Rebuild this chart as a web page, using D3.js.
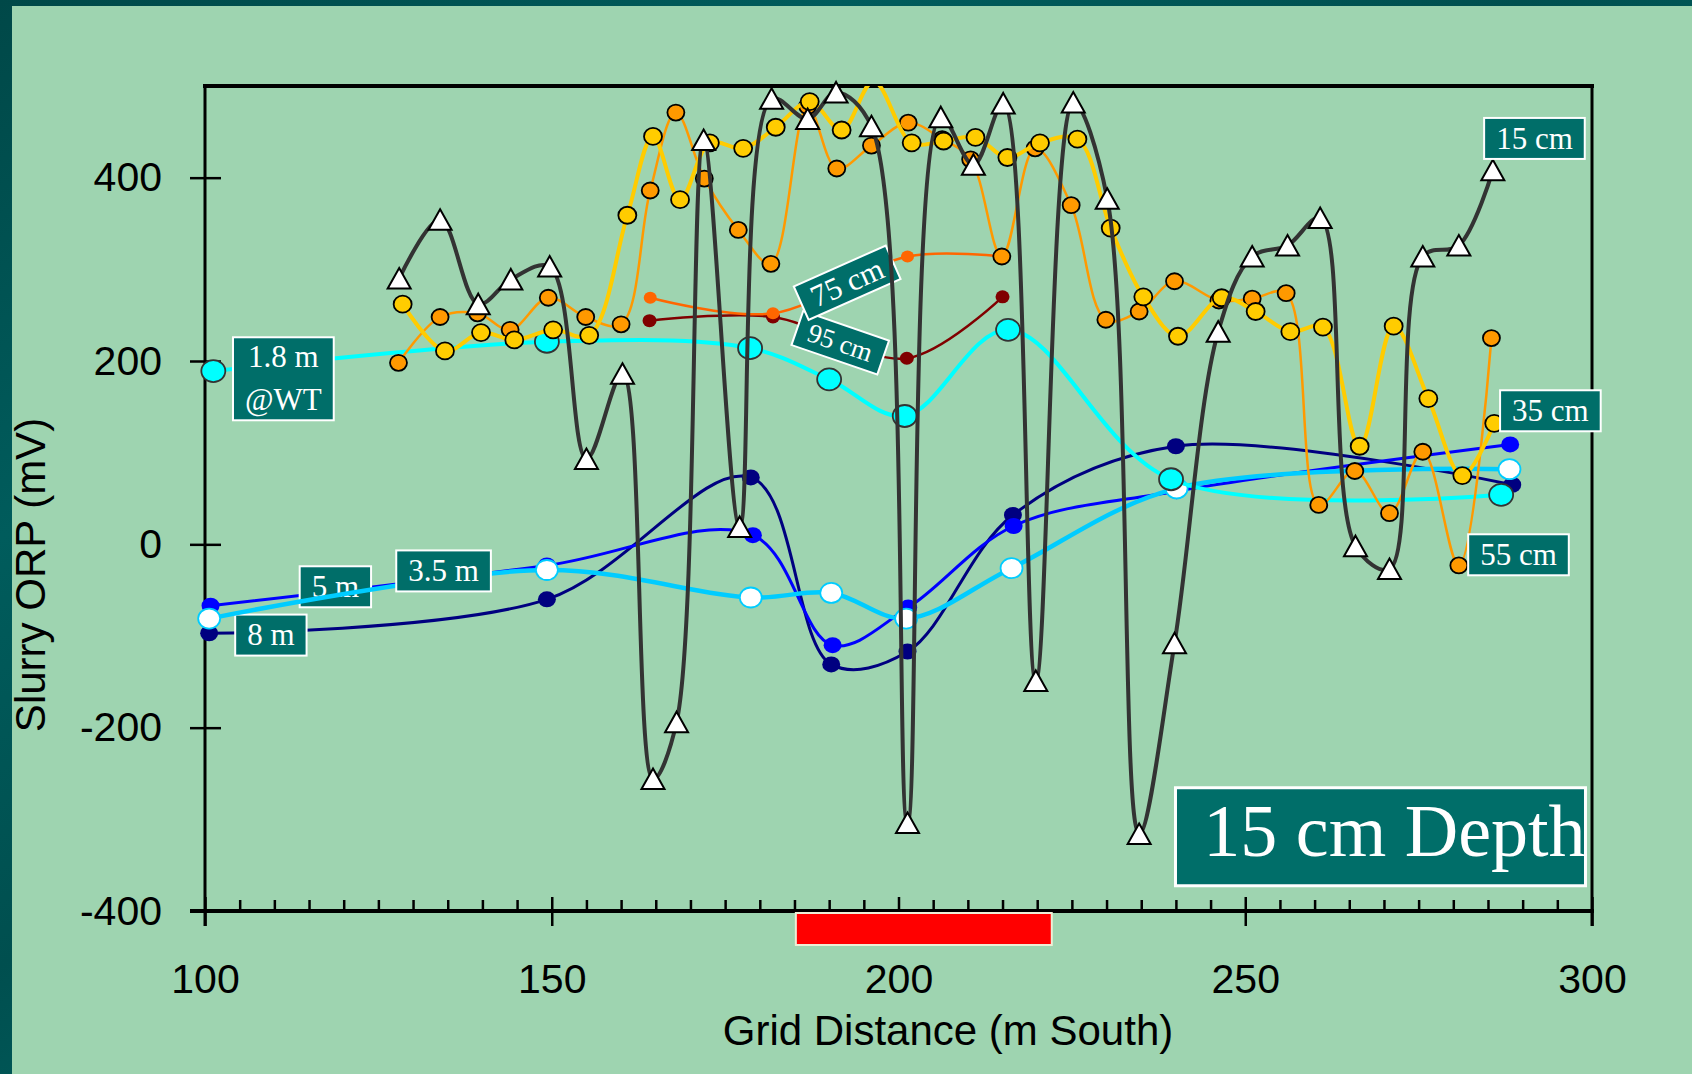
<!DOCTYPE html>
<html>
<head>
<meta charset="utf-8">
<script src="https://cdn.jsdelivr.net/npm/d3@7"></script>
<style>
  html, body { margin: 0; padding: 0; background: #9ED4B0; }
  svg { display: block; }
</style>
</head>
<body>
<script>
// axis ticks
const xTicks = [100, 150, 200, 250, 300];
const xMinorTicks = d3.range(105, 300, 5).filter(v => v % 50 !== 0);
const yTicks = [-400, -200, 0, 200, 400];

// grid distance (m South) and slurry ORP (mV), one pair per depth
const cm15Dist = [128.0, 133.9, 139.4, 144.1, 149.7, 155.0, 160.2, 164.6, 168.0, 171.9, 177.1, 181.7, 186.9, 191.0, 196.1, 201.3, 206.1, 210.8, 215.1, 219.8, 225.2, 230.1, 234.7, 239.8, 246.1, 251.0, 256.1, 260.8, 265.9, 270.8, 275.6, 280.8, 285.7];
const cm15Orp = [290, 354, 262, 289, 303, 93, 186, -256, -194, 441, 19, 486, 464, 493, 456, -304, 466, 414, 481, -149, 482, 377, -316, -108, 232, 314, 326, 356, -2, -27, 314, 326, 408];

const cm35Dist = [128.5, 134.6, 139.8, 144.6, 150.2, 155.4, 160.9, 164.6, 168.5, 172.8, 177.6, 182.3, 187.2, 191.8, 196.4, 201.9, 206.5, 211.1, 215.7, 220.4, 225.8, 230.6, 235.3, 240.3, 246.6, 251.5, 256.5, 261.2, 266.5, 271.4, 276.4, 281.3, 285.9];
const cm35Orp = [262, 211, 231, 223, 234, 228, 359, 445, 376, 438, 432, 455, 483, 452, 505, 438, 440, 444, 422, 438, 442, 345, 270, 227, 269, 254, 232, 237, 107, 238, 159, 75, 132];

const cm55Dist = [127.9, 133.9, 139.3, 144.0, 149.5, 154.9, 160.0, 164.2, 167.9, 172.0, 176.9, 181.6, 186.9, 191.1, 196.1, 201.4, 206.3, 210.4, 214.9, 219.7, 224.9, 229.9, 234.7, 239.8, 246.2, 251.0, 255.9, 260.6, 265.8, 270.8, 275.6, 280.8, 285.5];
const cm55Orp = [198, 248, 252, 234, 269, 248, 240, 386, 471, 399, 343, 306, 478, 410, 435, 460, 442, 420, 314, 432, 370, 245, 254, 287, 266, 268, 274, 43, 80, 34, 101, -23, 225];

const cm75Dist = [164.2, 181.9, 201.3, 215.0];
const cm75Orp = [269, 252, 314, 314];

const cm95Dist = [164.1, 181.9, 201.2, 215.0];
const cm95Orp = [244, 248, 203, 270];

const m1p8Dist = [101.2, 149.3, 178.6, 190.0, 200.9, 215.8, 239.3, 286.9];
const m1p8Orp = [189, 221, 214, 180, 140, 234, 71, 54];

const m3p5Dist = [100.6, 149.3, 178.7, 190.3, 201.1, 216.3, 240.1, 288.1];
const m3p5Orp = [-81, -28, -58, -53, -81, -26, 61, 82];

const m5Dist = [100.8, 149.3, 179.0, 190.5, 201.4, 216.6, 240.1, 288.2];
const m5Orp = [-67, -23, 10, -110, -69, 20, 58, 109];

const m8Dist = [100.6, 149.3, 178.7, 190.3, 201.3, 216.5, 240.0, 288.5];
const m8Orp = [-97, -60, 73, -131, -117, 32, 107, 65];

// red band under the axis (grid distance range)
const redZone = [185.2, 222.1];

const W = 1692, H = 1074;
const plot = { left: 205, right: 1592, top: 86, bottom: 911 };

const x = d3.scaleLinear().domain([100, 300]).range([plot.left, plot.right]);
const y = d3.scaleLinear().domain([-400, 500]).range([plot.bottom, plot.top]);

const svg = d3.select("body").append("svg")
    .attr("width", W)
    .attr("height", H);

const defs = svg.append("defs");
const grad = defs.append("linearGradient").attr("id", "frame")
    .attr("x1", "0").attr("y1", "0").attr("x2", "1").attr("y2", "1");
[["0%", "#004848"], ["25%", "#005C5C"], ["45%", "#004F4F"], ["65%", "#006565"], ["100%", "#007070"]]
    .forEach(s => grad.append("stop").attr("offset", s[0]).attr("stop-color", s[1]));

defs.append("clipPath").attr("id", "plotClip")
    .append("rect")
    .attr("x", plot.left).attr("y", plot.top)
    .attr("width", plot.right - plot.left)
    .attr("height", plot.bottom - plot.top);

// slide background
svg.append("rect").attr("width", W).attr("height", H).attr("fill", "url(#frame)");
svg.append("rect").attr("x", 12).attr("y", 6).attr("width", W - 12).attr("height", H - 6)
    .attr("fill", "#9ED4B0");

// axes
const tickFont = "'Liberation Sans', Arial, sans-serif";
const plain = d => String(d);

const xAxis = svg.append("g")
    .attr("transform", `translate(0,${plot.bottom})`)
    .call(d3.axisBottom(x).tickValues(xTicks).tickSize(15).tickFormat(plain));
xAxis.selectAll("text")
    .attr("y", 82).attr("dy", 0)
    .style("font", `41px ${tickFont}`).attr("fill", "#000");

svg.append("g")
    .attr("transform", `translate(0,${plot.bottom})`)
    .call(d3.axisTop(x).tickValues(xTicks).tickSize(14).tickFormat(""));
svg.append("g")
    .attr("transform", `translate(0,${plot.bottom})`)
    .call(d3.axisTop(x).tickValues(xMinorTicks).tickSize(11).tickFormat(""));

const yAxis = svg.append("g")
    .attr("transform", `translate(${plot.left},0)`)
    .call(d3.axisLeft(y).tickValues(yTicks).tickSize(15).tickFormat(plain));
yAxis.selectAll("text")
    .attr("x", -43)
    .style("font", `41px ${tickFont}`).attr("fill", "#000");
svg.append("g")
    .attr("transform", `translate(${plot.left},0)`)
    .call(d3.axisRight(y).tickValues(yTicks).tickSize(16).tickFormat(""));

svg.selectAll(".domain").remove();
svg.selectAll(".tick line").attr("stroke", "#000").attr("stroke-width", 2.5);

// plot frame
svg.append("line").attr("x1", plot.left - 2).attr("x2", plot.right + 2)
    .attr("y1", plot.top).attr("y2", plot.top).attr("stroke", "#000").attr("stroke-width", 4);
svg.append("line").attr("x1", plot.left - 15).attr("x2", plot.right + 2)
    .attr("y1", plot.bottom).attr("y2", plot.bottom).attr("stroke", "#000").attr("stroke-width", 4);
svg.append("line").attr("x1", plot.left).attr("x2", plot.left)
    .attr("y1", plot.top).attr("y2", plot.bottom + 15).attr("stroke", "#000").attr("stroke-width", 3);
svg.append("line").attr("x1", plot.right).attr("x2", plot.right)
    .attr("y1", plot.top).attr("y2", plot.bottom + 15).attr("stroke", "#000").attr("stroke-width", 3);

// red band
svg.append("rect")
    .attr("x", x(redZone[0])).attr("y", plot.bottom + 2)
    .attr("width", x(redZone[1]) - x(redZone[0])).attr("height", 32)
    .attr("fill", "#FF0000").attr("stroke", "#EDEED6").attr("stroke-width", 2);

// axis titles
svg.append("text")
    .attr("x", 948).attr("y", 1045)
    .attr("text-anchor", "middle")
    .style("font", `42px ${tickFont}`)
    .text("Grid Distance (m South)");
svg.append("text")
    .attr("transform", "translate(45,575) rotate(-90)")
    .attr("text-anchor", "middle")
    .style("font", `42px ${tickFont}`)
    .text("Slurry ORP (mV)");

// series
const line = d3.line()
    .x(d => x(d[0]))
    .y(d => y(d[1]))
    .curve(d3.curveCatmullRom.alpha(0.5));

const series = [
    { key: "m8", dist: m8Dist, orp: m8Orp, color: "#000080", width: 3, shape: "dot", rx: 9, ry: 8, fill: "#000080", edge: "none" },
    { key: "m5", dist: m5Dist, orp: m5Orp, color: "#0000FF", width: 3, shape: "dot", rx: 9, ry: 8, fill: "#0000FF", edge: "none" },
    { key: "m3p5", dist: m3p5Dist, orp: m3p5Orp, color: "#00CCFF", width: 4.5, shape: "dot", rx: 11, ry: 10, fill: "#FFFFFF", edge: "#00CCFF" },
    { key: "m1p8", dist: m1p8Dist, orp: m1p8Orp, color: "#00FFFF", width: 4, shape: "dot", rx: 12, ry: 11, fill: "#00FFFF", edge: "#333333" },
    { key: "cm95", dist: cm95Dist, orp: cm95Orp, color: "#800000", width: 2.5, shape: "dot", rx: 7, ry: 6.5, fill: "#800000", edge: "none" },
    { key: "cm75", dist: cm75Dist, orp: cm75Orp, color: "#FF6600", width: 2.5, shape: "dot", rx: 6.5, ry: 6, fill: "#FF6600", edge: "none" },
    { key: "cm55", dist: cm55Dist, orp: cm55Orp, color: "#FF9900", width: 2.5, shape: "dot", rx: 8.5, ry: 8, fill: "#FF9900", edge: "#000" },
    { key: "cm35", dist: cm35Dist, orp: cm35Orp, color: "#FFCC00", width: 4, shape: "dot", rx: 9, ry: 8.5, fill: "#FFCC00", edge: "#000" },
    { key: "cm15", dist: cm15Dist, orp: cm15Orp, color: "#333333", width: 4, shape: "tri", fill: "#FFFFFF", edge: "#000" }
];

// text boxes, centred at data coordinates
const labels = {
    m8: [{ lines: ["8 m"], at: [109.5, -99] }],
    m5: [{ lines: ["5 m"], at: [118.8, -46.3] }],
    m3p5: [{ lines: ["3.5 m"], at: [134.4, -29] }],
    m1p8: [{ lines: ["1.8 m", "@WT"], at: [111.3, 180.6], h: 83 }],
    cm95: [{ lines: ["95 cm"], at: [191.6, 219.9], h: 36, angle: 19, size: 27 }],
    cm75: [{ lines: ["75 cm"], at: [192.6, 285.4], h: 36.5, angle: -24 }],
    cm55: [{ lines: ["55 cm"], at: [289.4, -11.4] }],
    cm35: [{ lines: ["35 cm"], at: [294.0, 145.7] }],
    cm15: [{ lines: ["15 cm"], at: [291.7, 442.8] },
           { lines: ["15 cm Depth"], at: [269.5, -319], w: 410, h: 98, size: 74, dx: 14, dy: 19, border: 3 }]
};

const serif = "'Liberation Serif', 'Times New Roman', serif";

function drawLabel(lab) {
    const size = lab.size || 31;
    const h = lab.h || 41;
    const g = svg.append("g")
        .attr("transform", `translate(${x(lab.at[0])},${y(lab.at[1])}) rotate(${lab.angle || 0})`);
    const rect = g.append("rect")
        .attr("fill", "#006E69")
        .attr("stroke", "#FFFFFF")
        .attr("stroke-width", lab.border || 2);
    const t = g.append("text")
        .attr("text-anchor", "middle")
        .attr("fill", "#FFFFFF")
        .style("font", `${size}px ${serif}`);
    const n = lab.lines.length;
    lab.lines.forEach((s, i) => {
        t.append("tspan")
            .attr("x", lab.dx || 0)
            .attr("y", n === 1 ? (lab.dy !== undefined ? lab.dy : size * 0.33) : (i === 0 ? -11.7 : 30.9))
            .text(s);
    });
    let w = lab.w;
    if (!w) {
        w = d3.max(t.selectAll("tspan").nodes(), nd => nd.getComputedTextLength()) + 24;
    }
    rect.attr("x", -w / 2).attr("y", -h / 2).attr("width", w).attr("height", h);
}

function triPath(cx, cy) {
    return `M${cx},${cy - 10.5}L${cx + 11.5},${cy + 10}L${cx - 11.5},${cy + 10}Z`;
}

series.forEach(s => {
    const pts = s.dist.map((d, i) => [d, s.orp[i]]);
    svg.append("path")
        .datum(pts)
        .attr("clip-path", "url(#plotClip)")
        .attr("fill", "none")
        .attr("stroke", s.color)
        .attr("stroke-width", s.width)
        .attr("stroke-linejoin", "round")
        .attr("d", line);

    const shown = pts.filter(p => p[1] <= 500 && p[1] >= -400);
    if (s.shape === "tri") {
        svg.append("g").selectAll("path")
            .data(shown)
            .join("path")
            .attr("d", p => triPath(x(p[0]), y(p[1])))
            .attr("fill", s.fill)
            .attr("stroke", s.edge)
            .attr("stroke-width", 2)
            .attr("stroke-linejoin", "miter");
    } else {
        svg.append("g").selectAll("ellipse")
            .data(shown)
            .join("ellipse")
            .attr("cx", p => x(p[0]))
            .attr("cy", p => y(p[1]))
            .attr("rx", s.rx)
            .attr("ry", s.ry)
            .attr("fill", s.fill)
            .attr("stroke", s.edge)
            .attr("stroke-width", s.edge === "none" ? 0 : 1.8);
    }

    (labels[s.key] || []).forEach(drawLabel);
});
</script>
</body>
</html>
